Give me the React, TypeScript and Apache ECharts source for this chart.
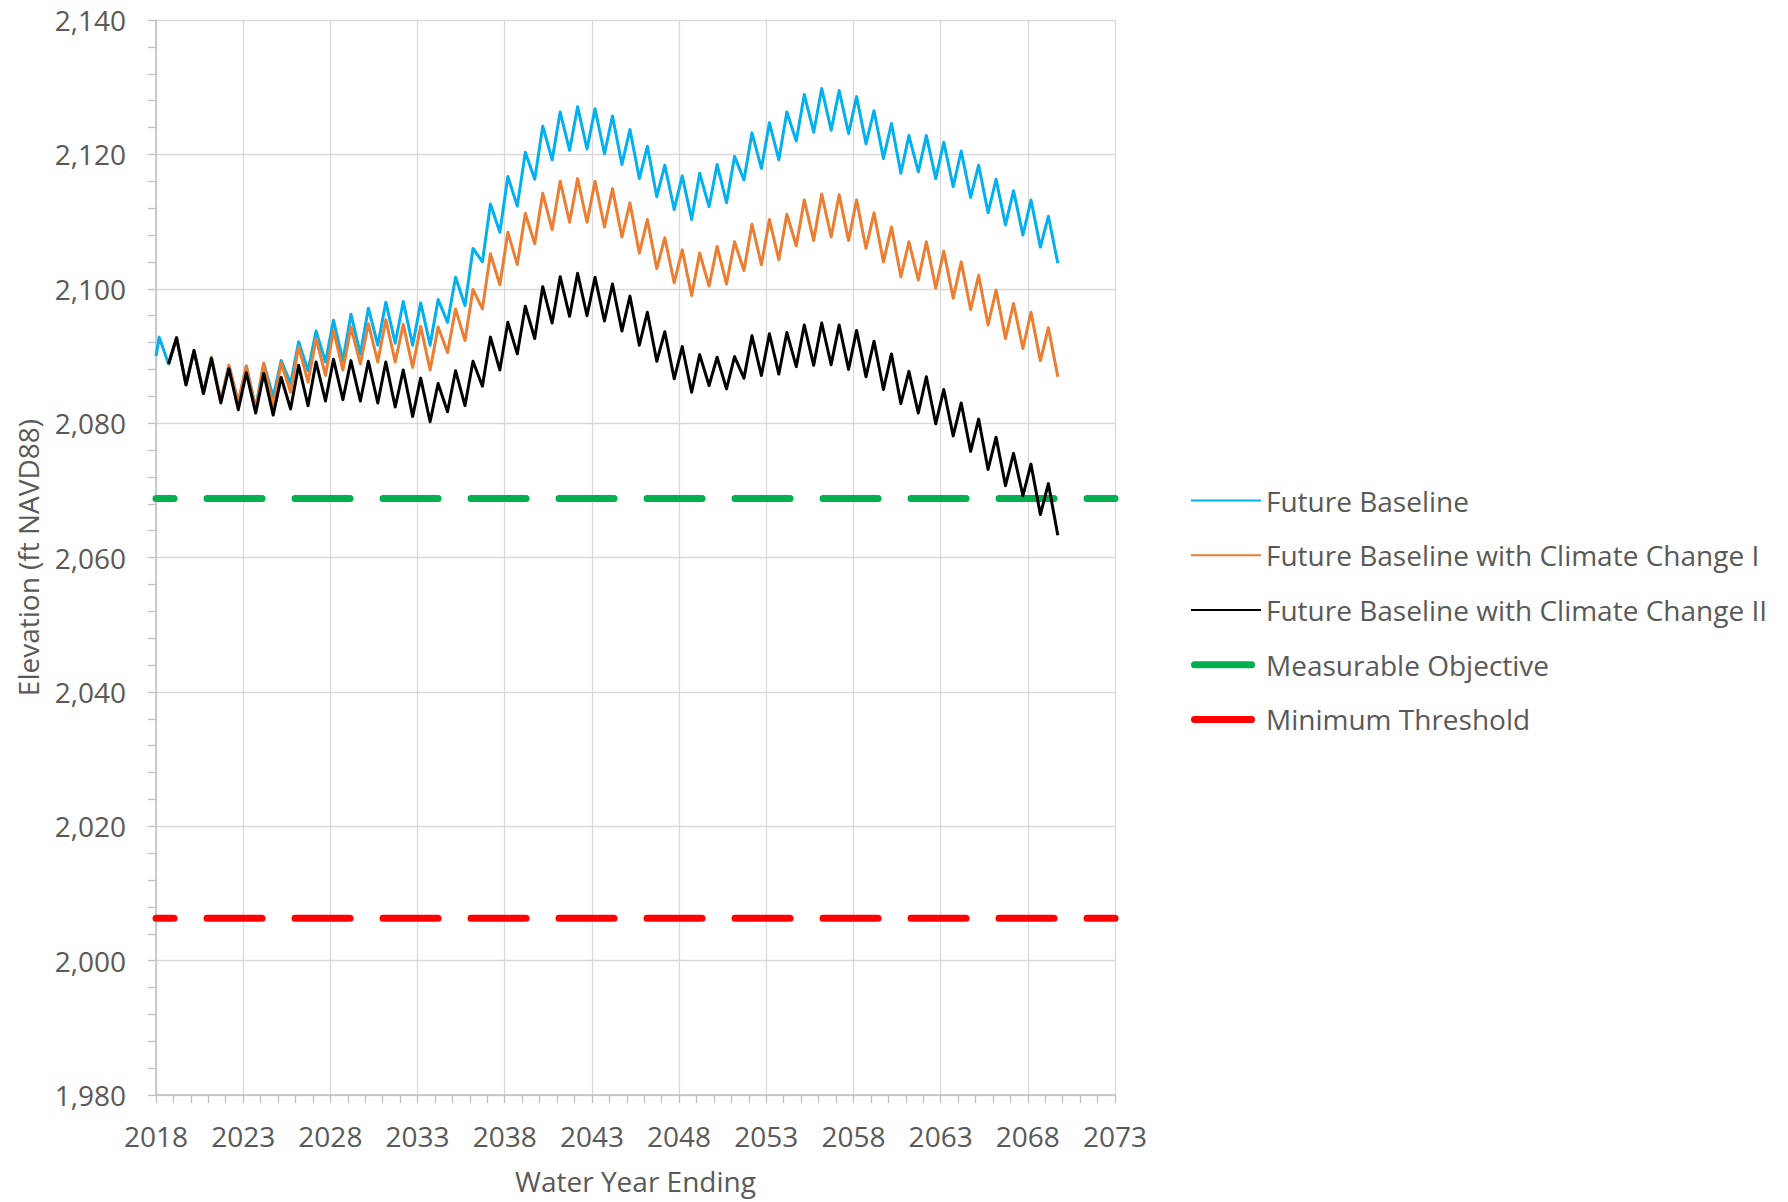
import React, { useEffect, useRef } from "react";
import * as echarts from "echarts";

// Axis / scale values
const FIRST_YEAR = 2018;
const LAST_YEAR = 2073;
const YEAR_STEP = 5;
const ELEV_MIN = 1980;
const ELEV_MAX = 2140;
const ELEV_STEP = 20;

// Seasonal timing inside each year (fraction of the year)
const PEAK_AT = 0.18;
const TROUGH_AT = 0.72;

// Series names
const names = [
  "Future Baseline",
  "Future Baseline with Climate Change I",
  "Future Baseline with Climate Change II",
  "Measurable Objective",
  "Minimum Threshold",
];

// Threshold levels (ft NAVD88)
const measurableObjective = 2068.8;
const minimumThreshold = 2006.3;

// Future Baseline starts at the beginning of 2018
const baselineStart = 2090.0;

// Annual high values, years 2018..2069 (null = series not yet started)
const baselinePeaks = [
  2092.8, 2092.7, 2090.8, 2089.8, 2088.6, 2088.5, 2088.9, 2089.3, 2092.1, 2093.7,
  2095.3, 2096.2, 2097.1, 2098.0, 2098.1, 2097.9, 2098.4, 2101.7, 2106.0, 2112.6,
  2116.7, 2120.3, 2124.2, 2126.3, 2127.1, 2126.8, 2125.7, 2123.7, 2121.2, 2118.4,
  2116.8, 2117.2, 2118.5, 2119.7, 2123.2, 2124.7, 2126.3, 2128.9, 2129.8, 2129.5,
  2128.6, 2126.5, 2124.6, 2122.8, 2122.8, 2121.8, 2120.5, 2118.4, 2116.3, 2114.6,
  2113.2, 2110.8,
];
// Annual low values, years 2018..2068, then the final value of 2069
const baselineTroughs = [
  2088.8, 2085.7, 2084.5, 2083.3, 2083.1, 2082.3, 2083.9, 2085.9, 2087.8, 2089.1,
  2089.3, 2090.3, 2091.6, 2091.9, 2091.6, 2091.6, 2095.0, 2097.5, 2104.0, 2108.4,
  2112.3, 2116.3, 2119.2, 2120.6, 2120.8, 2120.1, 2118.5, 2116.4, 2113.7, 2111.8,
  2110.3, 2112.2, 2112.8, 2116.2, 2117.9, 2119.2, 2122.0, 2123.3, 2123.6, 2123.1,
  2121.6, 2119.4, 2117.2, 2117.4, 2116.4, 2115.2, 2113.6, 2111.3, 2109.5, 2108.0,
  2106.2, 2103.8,
];

const climate1Peaks = [
  null, 2092.7, 2090.8, 2089.8, 2088.6, 2088.5, 2088.9, 2088.9, 2091.4, 2092.6,
  2093.8, 2094.3, 2094.8, 2095.4, 2094.7, 2094.4, 2094.3, 2097.0, 2099.9, 2105.2,
  2108.4, 2111.2, 2114.2, 2116.0, 2116.4, 2116.0, 2114.9, 2112.8, 2110.3, 2107.6,
  2105.8, 2105.3, 2106.3, 2107.0, 2109.6, 2110.3, 2111.1, 2113.2, 2114.1, 2114.0,
  2113.2, 2111.3, 2109.2, 2107.0, 2107.0, 2105.6, 2104.0, 2102.0, 2099.8, 2097.8,
  2096.5, 2094.2,
];
const climate1Troughs = [
  2088.8, 2085.7, 2084.5, 2083.3, 2083.1, 2082.0, 2082.6, 2084.6, 2086.1, 2087.1,
  2087.9, 2088.8, 2089.1, 2089.1, 2088.3, 2087.9, 2090.5, 2092.3, 2097.0, 2100.6,
  2103.6, 2106.7, 2108.8, 2109.9, 2109.9, 2109.2, 2107.7, 2105.3, 2103.0, 2100.9,
  2099.0, 2100.4, 2100.7, 2102.7, 2103.6, 2104.3, 2106.4, 2107.2, 2107.7, 2107.2,
  2106.0, 2104.0, 2101.8, 2101.3, 2100.1, 2098.6, 2096.9, 2094.6, 2092.6, 2091.1,
  2089.3, 2086.9,
];

const climate2Peaks = [
  null, 2092.7, 2090.8, 2089.6, 2088.1, 2087.5, 2087.4, 2086.8, 2088.6, 2089.1,
  2089.5, 2089.3, 2089.2, 2089.1, 2087.9, 2086.7, 2085.9, 2087.8, 2089.2, 2092.8,
  2095.0, 2097.4, 2100.3, 2101.8, 2102.3, 2101.7, 2100.7, 2098.9, 2096.5, 2093.6,
  2091.4, 2090.2, 2089.8, 2089.9, 2093.0, 2093.3, 2093.5, 2094.6, 2094.9, 2094.6,
  2093.8, 2092.2, 2090.3, 2087.7, 2086.9, 2085.0, 2083.0, 2080.6, 2077.9, 2075.5,
  2073.9, 2071.0,
];
const climate2Troughs = [
  2088.8, 2085.7, 2084.4, 2083.0, 2082.0, 2081.5, 2081.2, 2082.1, 2082.6, 2083.3,
  2083.5, 2083.3, 2083.0, 2082.4, 2081.0, 2080.2, 2081.7, 2082.6, 2085.5, 2087.9,
  2090.3, 2092.6, 2094.9, 2095.9, 2096.0, 2095.2, 2093.7, 2091.6, 2089.2, 2086.6,
  2084.6, 2085.6, 2085.1, 2086.7, 2087.1, 2087.3, 2088.4, 2088.6, 2088.7, 2088.0,
  2086.9, 2085.0, 2082.9, 2081.5, 2079.9, 2078.1, 2075.8, 2073.1, 2070.7, 2069.2,
  2066.4, 2063.3,
];

const colors = ["#00B0F0", "#ED7D31", "#000000", "#00B050", "#FF0000"];
const FONT = "Open Sans";
const TEXT_COLOR = "#595959";

// Legend icon shapes (thin line, and thick round-ended bar)
const thinIcon = "path://M0,0H70V2H0Z";
const thickIcon =
  "path://M70,0M3.5,0H60.5A3.5,3.5,0,0,1,60.5,7H3.5A3.5,3.5,0,0,1,3.5,0Z";

// x is measured in years since FIRST_YEAR so that ticks land on 2018, 2023, ...
function buildSeries(
  peaks: (number | null)[],
  troughs: number[],
  start: number | null
): [number, number][] {
  const pts: [number, number][] = [];
  if (start !== null) pts.push([0, start]);
  for (let i = 0; i < peaks.length; i++) {
    const p = peaks[i];
    if (p !== null) pts.push([i + PEAK_AT, p]);
    if (i < troughs.length) pts.push([i + TROUGH_AT, troughs[i]]);
  }
  return pts;
}

function levelLine(v: number): [number, number][] {
  return [
    [0, v],
    [LAST_YEAR - FIRST_YEAR, v],
  ];
}

function withCommas(v: number): string {
  return String(Math.round(v)).replace(/\B(?=(\d{3})+(?!\d))/g, ",");
}

export default function App() {
  const ref = useRef<HTMLDivElement>(null);

  useEffect(() => {
    if (!ref.current) return;
    const chart = echarts.init(ref.current, undefined, { renderer: "svg" });

    const dashStyle = (color: string) => ({
      color,
      width: 7,
      type: [55, 33] as number[],
      dashOffset: 37.4,
      cap: "round" as const,
    });

    const dataLine = (color: string) => ({ color, width: 3, join: "round" as const });

    chart.setOption({
      animation: false,
      backgroundColor: "#ffffff",
      textStyle: { fontFamily: FONT },
      grid: { left: 156, top: 20, right: 673, bottom: 107, containLabel: false },
      legend: {
        orient: "vertical",
        left: 1191,
        top: 486.6,
        padding: 0,
        itemWidth: 70,
        itemHeight: 28,
        itemGap: 26.7,
        selectedMode: false,
        textStyle: { color: TEXT_COLOR, fontSize: 28, fontFamily: FONT, lineHeight: 28 },
        data: [
          { name: names[0], icon: thinIcon },
          { name: names[1], icon: thinIcon },
          { name: names[2], icon: thinIcon },
          { name: names[3], icon: thickIcon },
          { name: names[4], icon: thickIcon },
        ],
      },
      xAxis: {
        type: "value",
        min: 0,
        max: LAST_YEAR - FIRST_YEAR,
        interval: YEAR_STEP,
        name: "Water Year Ending",
        nameLocation: "middle",
        nameGap: 72,
        nameTextStyle: { color: TEXT_COLOR, fontSize: 28, fontFamily: FONT },
        axisLine: { show: true, onZero: false, lineStyle: { color: "#BFBFBF", width: 1.5 } },
        axisTick: { show: true, length: 8, lineStyle: { color: "#BFBFBF", width: 1.3 } },
        minorTick: { show: true, splitNumber: 5, length: 8, lineStyle: { color: "#BFBFBF", width: 1.3 } },
        splitLine: { show: true, lineStyle: { color: "#D9D9D9", width: 1.3 } },
        axisLabel: {
          color: TEXT_COLOR,
          fontSize: 28,
          fontFamily: FONT,
          margin: 27,
          formatter: (v: number) => String(FIRST_YEAR + v),
        },
      },
      yAxis: {
        type: "value",
        min: ELEV_MIN,
        max: ELEV_MAX,
        interval: ELEV_STEP,
        name: "Elevation (ft NAVD88)",
        nameLocation: "middle",
        nameGap: 114,
        nameTextStyle: { color: TEXT_COLOR, fontSize: 28, fontFamily: FONT },
        axisLine: { show: true, lineStyle: { color: "#BFBFBF", width: 1.5 } },
        axisTick: { show: true, length: 8, lineStyle: { color: "#BFBFBF", width: 1.3 } },
        minorTick: { show: true, splitNumber: 5, length: 8, lineStyle: { color: "#BFBFBF", width: 1.3 } },
        splitLine: { show: true, lineStyle: { color: "#D9D9D9", width: 1.3 } },
        axisLabel: {
          color: TEXT_COLOR,
          fontSize: 28,
          fontFamily: FONT,
          margin: 30,
          formatter: (v: number) => withCommas(v),
        },
      },
      series: [
        {
          name: names[3],
          type: "line",
          symbol: "none",
          silent: true,
          data: levelLine(measurableObjective),
          lineStyle: dashStyle(colors[3]),
          itemStyle: { color: colors[3] },
        },
        {
          name: names[4],
          type: "line",
          symbol: "none",
          silent: true,
          data: levelLine(minimumThreshold),
          lineStyle: dashStyle(colors[4]),
          itemStyle: { color: colors[4] },
        },
        {
          name: names[0],
          type: "line",
          symbol: "none",
          data: buildSeries(baselinePeaks, baselineTroughs, baselineStart),
          lineStyle: dataLine(colors[0]),
          itemStyle: { color: colors[0] },
        },
        {
          name: names[1],
          type: "line",
          symbol: "none",
          data: buildSeries(climate1Peaks, climate1Troughs, null),
          lineStyle: dataLine(colors[1]),
          itemStyle: { color: colors[1] },
        },
        {
          name: names[2],
          type: "line",
          symbol: "none",
          data: buildSeries(climate2Peaks, climate2Troughs, null),
          lineStyle: dataLine(colors[2]),
          itemStyle: { color: colors[2] },
        },
      ],
    });

    return () => {
      chart.dispose();
    };
  }, []);

  return (
    <div
      ref={ref}
      style={{ position: "absolute", left: 0, top: 0, width: 1788, height: 1202 }}
    />
  );
}
